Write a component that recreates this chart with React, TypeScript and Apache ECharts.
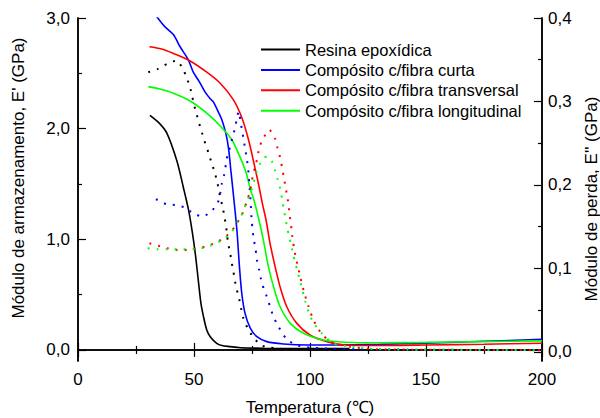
import React, { useEffect, useRef } from "react";
import * as echarts from "echarts";

// Temperature (°C), value pairs
const resinaStorage: number[][] = [
  [31, 2.12], [35, 2.05], [38.3, 1.96], [42.6, 1.71], [45.4, 1.47], [47.6, 1.27], [49, 1.1],
  [50.5, 0.88], [51.9, 0.62], [53, 0.42], [54, 0.31], [55.5, 0.18], [57, 0.12], [59.8, 0.06],
  [62, 0.04], [65.6, 0.03], [70, 0.02], [80, 0.015], [100, 0.012], [117, 0.012],
];
const curtaStorage: number[][] = [
  [30.5, 3.1], [34.4, 3.0], [37.5, 2.92], [41.1, 2.85], [44, 2.74], [47.6, 2.62], [49.7, 2.51],
  [52.4, 2.42], [54.8, 2.33], [57, 2.27], [58.4, 2.24], [60.5, 2.15], [62, 2.08], [63.8, 1.95],
  [64.9, 1.82], [65.9, 1.62], [67, 1.4], [68.5, 1.08], [69.6, 0.75], [70.6, 0.51], [72, 0.33],
  [74.2, 0.2], [77.1, 0.12], [81.4, 0.075], [88.6, 0.054], [98.7, 0.045], [110, 0.045],
  [130, 0.05], [150, 0.062], [175, 0.078], [200, 0.096],
];
const transversalStorage: number[][] = [
  [30.8, 2.74], [36, 2.72], [41.1, 2.68], [47.6, 2.62], [55.5, 2.51], [61.3, 2.41], [67, 2.26],
  [70.6, 2.1], [73.5, 1.9], [75.6, 1.71], [77.8, 1.5], [79.5, 1.32], [81.1, 1.17], [82.8, 0.96],
  [85, 0.75], [87.1, 0.57], [90, 0.39], [94.3, 0.24], [100, 0.135], [107.3, 0.075], [115, 0.045],
  [130, 0.04], [150, 0.045], [175, 0.052], [200, 0.06],
];
const longitudinalStorage: number[][] = [
  [30.3, 2.38], [35, 2.36], [41.1, 2.32], [48.3, 2.25], [55.5, 2.14], [61.5, 2.02], [66.3, 1.9],
  [69.9, 1.74], [72.5, 1.6], [74.3, 1.45], [75.9, 1.35], [78.6, 1.12], [80.2, 0.96], [82.1, 0.75],
  [84.3, 0.57], [87.1, 0.39], [91.5, 0.24], [97.2, 0.15], [105.8, 0.09], [115, 0.07],
  [130, 0.065], [150, 0.068], [175, 0.075], [200, 0.082],
];

const resinaLoss: number[][] = [
  [30.3, 0.335], [34.4, 0.339], [38.3, 0.345], [42.5, 0.349], [45.2, 0.339], [46.9, 0.328],
  [48.3, 0.317], [49.3, 0.305], [50.2, 0.294], [51.2, 0.284], [52.3, 0.273], [53.6, 0.261],
  [54.8, 0.25], [56.2, 0.239], [57.4, 0.228], [58.7, 0.217], [59.8, 0.206], [60.7, 0.194],
  [61.4, 0.184], [62.4, 0.173], [63.1, 0.162], [63.8, 0.151], [64.6, 0.132], [65.6, 0.118],
  [66.3, 0.106], [67, 0.096], [67.7, 0.084], [68.5, 0.074], [69.5, 0.063], [70.3, 0.052],
  [71.3, 0.04], [73, 0.029], [75.4, 0.018], [78.8, 0.008], [82.8, 0.005], [90, 0.003], [117, 0.002],
];
const curtaLoss: number[][] = [
  [33.6, 0.183], [38, 0.177], [41.8, 0.176], [45.9, 0.173], [49.7, 0.166], [53.6, 0.162],
  [57.4, 0.168], [60.3, 0.179], [61.3, 0.19], [62, 0.202], [63, 0.212], [63.7, 0.224],
  [64.4, 0.235], [65.6, 0.246], [66.7, 0.258], [67.7, 0.268], [68.5, 0.28], [69.2, 0.288],
  [70.6, 0.267], [71.3, 0.256], [72, 0.244], [72.8, 0.231], [73.5, 0.215], [74, 0.195],
  [74.4, 0.18], [74.9, 0.156], [75.6, 0.138], [76.6, 0.122], [77.1, 0.11], [78.1, 0.098],
  [78.8, 0.088], [80, 0.076], [81.4, 0.066], [82.8, 0.054], [84, 0.044], [86, 0.032],
  [90, 0.015], [94.3, 0.008], [100, 0.005], [120, 0.003], [200, 0.002],
];
const transversalLoss: number[][] = [
  [30.8, 0.13], [34.6, 0.127], [38.7, 0.124], [42.8, 0.122], [46.9, 0.122], [50.9, 0.124],
  [54.8, 0.126], [58.7, 0.13], [62.7, 0.136], [66.3, 0.145], [68.7, 0.155], [70.9, 0.166],
  [72.5, 0.178], [74.2, 0.193], [75.4, 0.212], [76.8, 0.226], [78.2, 0.245], [79.9, 0.256],
  [82.5, 0.266], [85, 0.255], [86, 0.244], [87.1, 0.233], [87.9, 0.222], [88.6, 0.211],
  [89.3, 0.2], [90, 0.189], [90.7, 0.178], [91.1, 0.166], [91.7, 0.155], [92.3, 0.14],
  [93, 0.126], [93.8, 0.114], [94.8, 0.102], [95.8, 0.09], [97.4, 0.072], [99.4, 0.054],
  [101.5, 0.038], [104.4, 0.024], [108.7, 0.012], [117.3, 0.006], [130, 0.003], [200, 0.002],
];
const longitudinalLoss: number[][] = [
  [30, 0.124], [34.4, 0.123], [38.4, 0.123], [42.6, 0.123], [46.5, 0.123], [50.3, 0.123],
  [54.4, 0.125], [58.7, 0.129], [62.7, 0.135], [66.3, 0.144], [68.7, 0.155], [70.9, 0.166],
  [72.5, 0.178], [74.2, 0.19], [75.5, 0.2], [76.4, 0.211], [77.8, 0.222], [79.9, 0.232],
  [81.5, 0.234], [83.6, 0.228], [85, 0.217], [86, 0.207], [87.1, 0.196], [87.9, 0.184],
  [88.6, 0.173], [89.3, 0.162], [90, 0.151], [91, 0.138], [92, 0.126], [93, 0.114],
  [94.3, 0.1], [95.4, 0.088], [96.5, 0.077], [98, 0.06], [100, 0.043], [102.2, 0.032],
  [104.8, 0.023], [107.3, 0.016], [110, 0.01], [117.3, 0.006], [130, 0.003], [200, 0.002],
];

const seriesNames = [
  "Resina epoxídica",
  "Compósito c/fibra curta",
  "Compósito c/fibra transversal",
  "Compósito c/fibra longitudinal",
];
const seriesColors = ["#000000", "#0000ff", "#ff0000", "#00ff00"];

const xTicks = [0, 50, 100, 150, 200];
const leftMajorTicks = [0, 1, 2, 3];
const leftMinorTicks = [0.5, 1.5, 2.5];
const rightMajorTicks = [0, 0.1, 0.2, 0.3, 0.4];
const rightMinorTicks = [0.05, 0.15, 0.25, 0.35];

const xTitle = "Temperatura (℃)";
const leftTitle = "Módulo de armazenamento, E' (GPa)";
const rightTitle = "Módulo de perda, E'' (GPa)";

const FONT = "'Liberation Sans', Arial, sans-serif";

export default function App() {
  const ref = useRef<HTMLDivElement>(null);
  useEffect(() => {
    document.body.style.margin = "0";
    if (!ref.current) return;
    const chart = echarts.init(ref.current, undefined, { renderer: "svg" });
    const fmt = (v: number) => v.toFixed(1).replace(".", ",");
    const axisLine = { show: true, lineStyle: { color: "#000", width: 1.5 } };
    const baseX = {
      type: "value",
      min: xTicks[0],
      max: xTicks[xTicks.length - 1],
      interval: 50,
      axisLine,
      splitLine: { show: false },
      axisTick: { show: true, inside: true, length: 7, lineStyle: { color: "#000", width: 1.2 } },
      minorTick: { show: true, splitNumber: 2, length: 4, lineStyle: { color: "#000", width: 1.2 } },
    };
    const yBase = (pos: string, min: number, max: number) => ({
      type: "value",
      position: pos,
      min,
      max,
      axisLine,
      splitLine: { show: false },
    });
    const storage = [resinaStorage, curtaStorage, transversalStorage, longitudinalStorage];
    const loss = [resinaLoss, curtaLoss, transversalLoss, longitudinalLoss];
    const series: any[] = [];
    storage.forEach((d, i) => {
      series.push({
        name: seriesNames[i],
        type: "line",
        data: d,
        xAxisIndex: 0,
        yAxisIndex: 0,
        symbol: "none",
        smooth: 0.3,
        clip: true,
        color: seriesColors[i],
        lineStyle: { color: seriesColors[i], width: 1.6 },
      });
    });
    loss.forEach((d, i) => {
      series.push({
        name: seriesNames[i] + " E''",
        type: "line",
        data: d,
        xAxisIndex: 0,
        yAxisIndex: 2,
        symbol: "none",
        smooth: 0.2,
        clip: true,
        color: seriesColors[i],
        lineStyle: { color: seriesColors[i], width: 2, type: [2, 7], cap: "butt" },
      });
    });
    chart.setOption({
      animation: false,
      backgroundColor: "#fff",
      grid: { left: 78, right: 58, top: 18, bottom: 57, containLabel: false },
      legend: {
        data: seriesNames,
        orient: "vertical",
        left: 256,
        top: 36,
        icon: "rect",
        itemWidth: 39,
        itemHeight: 2,
        itemGap: 3.4,
        textStyle: { fontSize: 16.5, color: "#000", fontFamily: FONT },
      },
      xAxis: [
        {
          ...baseX,
          position: "bottom",
          axisLabel: { fontSize: 17, color: "#000", margin: 10, fontFamily: FONT },
        },
        { ...baseX, position: "top", axisLabel: { show: false } },
      ],
      yAxis: [
        {
          ...yBase("left", -0.1, 3.0),
          axisTick: { show: true, inside: true, length: 8, customValues: leftMajorTicks, lineStyle: { color: "#000", width: 1.2 } },
          axisLabel: { customValues: leftMajorTicks, formatter: fmt, fontSize: 17, color: "#000", margin: 8, fontFamily: FONT },
        },
        {
          ...yBase("left", -0.1, 3.0),
          axisTick: { show: true, inside: true, length: 4, customValues: leftMinorTicks, lineStyle: { color: "#000", width: 1.2 } },
          axisLabel: { show: false },
        },
        {
          ...yBase("right", -0.011, 0.4),
          axisTick: { show: true, inside: true, length: 8, customValues: rightMajorTicks, lineStyle: { color: "#000", width: 1.2 } },
          axisLabel: { customValues: rightMajorTicks, formatter: fmt, fontSize: 17, color: "#000", margin: 6, fontFamily: FONT },
        },
        {
          ...yBase("right", -0.011, 0.4),
          axisTick: { show: true, inside: true, length: 4, customValues: rightMinorTicks, lineStyle: { color: "#000", width: 1.2 } },
          axisLabel: { show: false },
        },
      ],
      graphic: [
        {
          type: "text",
          x: 310,
          y: 407,
          style: { text: xTitle, fontSize: 17, fontFamily: FONT, fill: "#000", align: "center", verticalAlign: "middle", textAlign: "center", textVerticalAlign: "middle" },
        },
        {
          type: "text",
          x: 18,
          y: 178,
          rotation: Math.PI / 2,
          style: { text: leftTitle, fontSize: 17, fontFamily: FONT, fill: "#000", align: "center", verticalAlign: "middle", textAlign: "center", textVerticalAlign: "middle" },
        },
        {
          type: "text",
          x: 591,
          y: 199,
          rotation: Math.PI / 2,
          style: { text: rightTitle, fontSize: 17, fontFamily: FONT, fill: "#000", align: "center", verticalAlign: "middle", textAlign: "center", textVerticalAlign: "middle" },
        },
      ],
      series,
    } as any);
    return () => chart.dispose();
  }, []);
  return <div ref={ref} style={{ width: 600, height: 418 }} />;
}
